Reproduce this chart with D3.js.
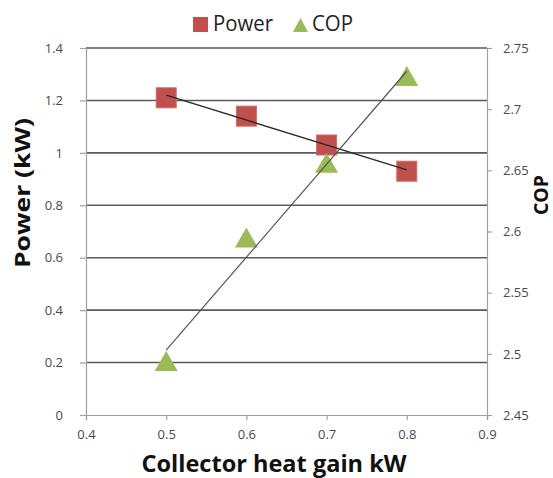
<!DOCTYPE html>
<html>
<head>
<meta charset="utf-8">
<script src="https://cdn.jsdelivr.net/npm/d3@7"></script>
<style>
  body { margin: 0; background: #fff; }
  text { font-family: "Open Sans", sans-serif; }
</style>
</head>
<body>
<script>
// Chart size
const width = 553;
const height = 478;
const margin = {top: 48, right: 66, bottom: 63, left: 86};

// Data
const heatGain = [0.5, 0.6, 0.7, 0.8];
const power = [1.21, 1.14, 1.03, 0.93];
const cop = [2.493, 2.594, 2.655, 2.726];

// Tick labels
const xTicks = [0.4, 0.5, 0.6, 0.7, 0.8, 0.9];
const powerTicks = [0, 0.2, 0.4, 0.6, 0.8, 1, 1.2, 1.4];
const copTicks = [2.45, 2.5, 2.55, 2.6, 2.65, 2.7, 2.75];

const red = "#c0504d";
const green = "#9bbb59";

var svg = d3.select("body")
    .append("svg")
    .attr("width", width)
    .attr("height", height);

// Scales
var x = d3.scaleLinear()
    .domain([0.4, 0.9])
    .range([margin.left, width - margin.right]);
var yPower = d3.scaleLinear()
    .domain([0, 1.4])
    .range([height - margin.bottom, margin.top]);
var yCop = d3.scaleLinear()
    .domain([2.45, 2.75])
    .range([height - margin.bottom, margin.top]);

// Horizontal gridlines
svg.append("g")
    .selectAll("line")
    .data(powerTicks.filter(d => d > 0))
    .join("line")
    .attr("x1", x(0.4))
    .attr("x2", x(0.9))
    .attr("y1", d => yPower(d))
    .attr("y2", d => yPower(d))
    .attr("stroke", "#5a5a5a")
    .attr("stroke-width", 1.6);

// Axes
function styleAxis(g) {
    g.select(".domain").attr("stroke", "#a0a0a0").attr("stroke-width", 1.2);
    g.selectAll(".tick line").attr("stroke", "#a0a0a0").attr("stroke-width", 1.2);
    g.selectAll(".tick text")
        .attr("fill", "#4a4a4a")
        .style("font-size", "13px")
        .style("font-family", "'Open Sans', sans-serif");
}

svg.append("g")
    .attr("transform", `translate(${margin.left},0)`)
    .call(d3.axisLeft(yPower).tickValues(powerTicks).tickFormat(d3.format("")).tickSizeOuter(0).tickSize(6).tickPadding(17))
    .call(styleAxis);

svg.append("g")
    .attr("transform", `translate(${width - margin.right},0)`)
    .call(d3.axisRight(yCop).tickValues(copTicks).tickFormat(d => String(+d.toFixed(2))).tickSizeOuter(0).tickSize(5).tickPadding(11))
    .call(styleAxis);

svg.append("g")
    .attr("transform", `translate(0,${height - margin.bottom})`)
    .call(d3.axisBottom(x).tickValues(xTicks).tickFormat(d3.format("")).tickSizeOuter(0).tickSize(5).tickPadding(10))
    .call(styleAxis);

// Markers
svg.append("g")
    .selectAll("rect")
    .data(heatGain)
    .join("rect")
    .attr("x", (d, i) => x(d) - 10)
    .attr("y", (d, i) => yPower(power[i]) - 10)
    .attr("width", 20)
    .attr("height", 20)
    .attr("fill", red)
    .attr("stroke", "#d06a67")
    .attr("stroke-width", 1);

var tri = d3.symbol().type(d3.symbolTriangle).size(230);
svg.append("g")
    .selectAll("path")
    .data(heatGain)
    .join("path")
    .attr("d", tri)
    .attr("transform", (d, i) => `translate(${x(d)},${yCop(cop[i]) + 2})`)
    .attr("fill", green);

// Linear trendlines (least squares)
function fit(xs, ys) {
    var mx = d3.mean(xs), my = d3.mean(ys);
    var sxy = d3.sum(xs, (v, i) => (v - mx) * (ys[i] - my));
    var sxx = d3.sum(xs, v => (v - mx) * (v - mx));
    var b = sxy / sxx;
    return v => my + b * (v - mx);
}
var fPower = fit(heatGain, power);
var fCop = fit(heatGain, cop);
var x0 = d3.min(heatGain), x1 = d3.max(heatGain);

svg.append("line")
    .attr("x1", x(x0)).attr("y1", yPower(fPower(x0)))
    .attr("x2", x(x1)).attr("y2", yPower(fPower(x1)))
    .attr("stroke", "#2a2a2a")
    .attr("stroke-width", 1.4);
svg.append("line")
    .attr("x1", x(x0)).attr("y1", yCop(fCop(x0)))
    .attr("x2", x(x1)).attr("y2", yCop(fCop(x1)))
    .attr("stroke", "#555")
    .attr("stroke-width", 1.2);

// Axis titles
svg.append("text")
    .attr("transform", "translate(30,193) rotate(-90)")
    .attr("text-anchor", "middle")
    .attr("textLength", 150)
    .attr("lengthAdjust", "spacingAndGlyphs")
    .style("font-size", "22px")
    .style("font-weight", "bold")
    .attr("fill", "#111")
    .text("Power (kW)");

svg.append("text")
    .attr("transform", "translate(548,195) rotate(-90)")
    .attr("text-anchor", "middle")
    .attr("textLength", 40)
    .attr("lengthAdjust", "spacingAndGlyphs")
    .style("font-size", "20px")
    .style("font-weight", "bold")
    .attr("fill", "#111")
    .text("COP");

svg.append("text")
    .attr("x", 274)
    .attr("y", 472)
    .attr("text-anchor", "middle")
    .attr("textLength", 265)
    .attr("lengthAdjust", "spacingAndGlyphs")
    .style("font-size", "24px")
    .style("font-weight", "bold")
    .attr("fill", "#111")
    .text("Collector heat gain kW");

// Legend
var legend = svg.append("g");
legend.append("rect")
    .attr("x", 193).attr("y", 17)
    .attr("width", 15).attr("height", 15)
    .attr("fill", red);
legend.append("text")
    .attr("x", 213).attr("y", 31)
    .attr("textLength", 60)
    .attr("lengthAdjust", "spacingAndGlyphs")
    .style("font-size", "21px")
    .attr("fill", "#222")
    .text("Power");
legend.append("path")
    .attr("d", "M300.5,18 L308,32 L293,32 Z")
    .attr("fill", green);
legend.append("text")
    .attr("x", 312).attr("y", 31)
    .attr("textLength", 41)
    .attr("lengthAdjust", "spacingAndGlyphs")
    .style("font-size", "21px")
    .attr("fill", "#222")
    .text("COP");
</script>
</body>
</html>
